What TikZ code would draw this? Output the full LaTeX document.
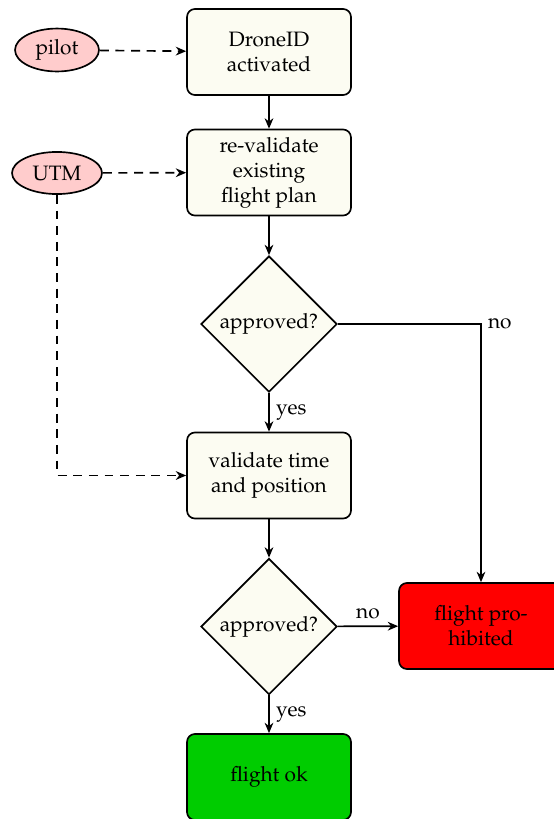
\documentclass[tikz,border=0pt]{standalone}
\usepackage[T1]{fontenc}
\usepackage{mathpazo}
\usetikzlibrary{shapes.geometric,arrows.meta}
\definecolor{boxfill}{HTML}{FCFCF2}
\definecolor{srcfill}{HTML}{FFCCCC}
\definecolor{okgreen}{HTML}{00CC00}
\tikzset{
  procbox/.style={draw, thick, rounded corners=3.8pt, fill=boxfill, minimum width=78.7pt, minimum height=41.3pt, align=center, inner sep=2pt},
  decision/.style={draw, thick, diamond, aspect=1, fill=boxfill, minimum size=65.3pt, inner sep=1pt},
  source/.style={draw, thick, ellipse, fill=srcfill, inner sep=1pt},
  flow/.style={thick, -{Stealth[length=5pt,width=4.2pt]}},
  dflow/.style={thick, dash pattern=on 4.3pt off 3.2pt, -{Stealth[length=5pt,width=4.2pt]}},
  lbl/.style={inner sep=3pt}
}
\begin{document}
\begin{tikzpicture}[x=0.48pt, y=-0.48pt]
\useasboundingbox (0,0) rectangle (553,819);
\node[source, minimum width=40.3pt, minimum height=20.6pt] (pilot) at (57,50) {pilot};
\node[source, minimum width=43.2pt, minimum height=20.2pt] (utm) at (57,173) {UTM};
\node[procbox] (drone) at (269,52) {DroneID\\activated};
\node[procbox] (reval) at (269,172.5) {re-validate\\existing\\flight plan};
\node[decision] (app1) at (269,324) {approved?};
\node[procbox] (valid) at (269,475.5) {validate time\\and position};
\node[decision] (app2) at (269,626.5) {approved?};
\node[procbox, fill=red] (prohib) at (481,626) {flight pro-\\hibited};
\node[procbox, fill=okgreen] (ok) at (269,777) {flight ok};
\coordinate (c1) at (481,324);
\coordinate (c2) at (57,475.5);

\draw[dflow] (pilot) -- (drone);
\draw[dflow] (utm) -- (reval);
\draw[dflow] (utm) -- (c2) -- (valid);
\draw[flow] (drone) -- (reval);
\draw[flow] (reval) -- (app1);
\draw[flow] (app1) -- node[lbl, right] {yes} (valid);
\draw[flow] (app1) -- (c1) node[lbl, right] {no} -- (prohib);
\draw[flow] (valid) -- (app2);
\draw[flow] (app2) -- node[lbl, above] {no} (prohib);
\draw[flow] (app2) -- node[lbl, right] {yes} (ok);
\end{tikzpicture}
\end{document}
